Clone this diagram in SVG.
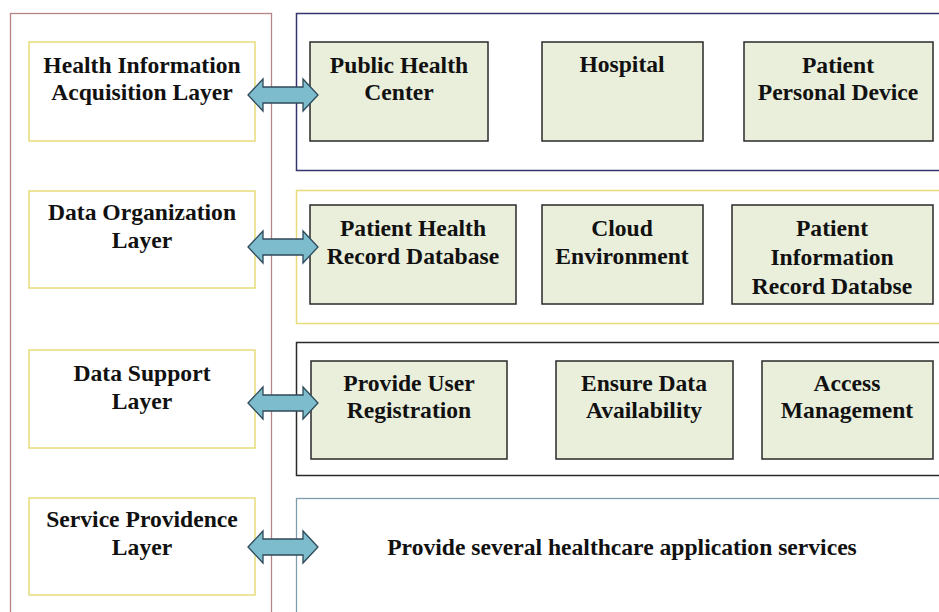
<svg xmlns="http://www.w3.org/2000/svg" width="939" height="612" viewBox="0 0 939 612">
<style>
text{font-family:"Liberation Serif","Times New Roman",serif;font-weight:bold;font-size:23.6px;fill:#111;text-anchor:middle}
.layer{fill:#fff;stroke:#e6dc7a;stroke-width:1.5}
.item{fill:#eaefdc;stroke:#2a2a2a;stroke-width:1.5}
.arrow{fill:#7dbccd;stroke:#2f4a5a;stroke-width:1.3;stroke-linejoin:miter}
</style>
<defs>
<path id="dbl" class="arrow" d="M0,0 L15,-16 L15,-8 L55,-8 L55,-16 L70,0 L55,16 L55,8 L15,8 L15,16 Z"/>
</defs>
<rect width="939" height="612" fill="#fff"/>
<g id="frame">
<rect x="10.5" y="13.5" width="261" height="610" fill="none" stroke="#b58585" stroke-width="1.3"/>
</g>
<g id="containers">
<rect x="296.5" y="13.5" width="660" height="157" fill="none" stroke="#34346e" stroke-width="1.5"/>
<rect x="296.5" y="190.5" width="660" height="133" fill="none" stroke="#e6dc7a" stroke-width="1.5"/>
<rect x="296.5" y="342.5" width="660" height="133" fill="none" stroke="#2a2a2a" stroke-width="1.5"/>
<rect x="296.5" y="498.5" width="660" height="130" fill="none" stroke="#7e9eae" stroke-width="1.3"/>
</g>
<g id="layer1"><rect class="layer" x="29" y="42" width="226" height="99"/><text x="142" y="73">Health Information</text><text x="142" y="100">Acquisition Layer</text></g>
<g id="layer2"><rect class="layer" x="29" y="191" width="226" height="97"/><text x="142" y="220">Data Organization</text><text x="142" y="248">Layer</text></g>
<g id="layer3"><rect class="layer" x="29" y="350" width="226" height="98"/><text x="142" y="381">Data Support</text><text x="142" y="409">Layer</text></g>
<g id="layer4"><rect class="layer" x="29" y="498" width="226" height="97"/><text x="142" y="527">Service Providence</text><text x="142" y="555">Layer</text></g>
<g id="n-public"><rect class="item" x="310" y="42" width="178" height="99"/><text x="399" y="73">Public Health</text><text x="399" y="100">Center</text></g>
<g id="n-hospital"><rect class="item" x="542" y="42" width="161" height="99"/><text x="622" y="72">Hospital</text></g>
<g id="n-device"><rect class="item" x="744" y="42" width="189" height="99"/><text x="838" y="73">Patient</text><text x="838" y="100">Personal Device</text></g>
<g id="n-phrd"><rect class="item" x="310" y="205" width="206" height="99"/><text x="413" y="236">Patient Health</text><text x="413" y="264">Record Database</text></g>
<g id="n-cloud"><rect class="item" x="542" y="205" width="161" height="99"/><text x="622" y="236">Cloud</text><text x="622" y="264">Environment</text></g>
<g id="n-pird"><rect class="item" x="732" y="205" width="201" height="99"/><text x="832" y="236">Patient</text><text x="832" y="265">Information</text><text x="832" y="294">Record Databse</text></g>
<g id="n-reg"><rect class="item" x="311" y="361" width="196" height="98"/><text x="409" y="391">Provide User</text><text x="409" y="418">Registration</text></g>
<g id="n-avail"><rect class="item" x="556" y="361" width="177" height="98"/><text x="644" y="391">Ensure Data</text><text x="644" y="418">Availability</text></g>
<g id="n-access"><rect class="item" x="762" y="361" width="171" height="98"/><text x="847" y="391">Access</text><text x="847" y="418">Management</text></g>
<g id="n-services"><text x="622" y="555">Provide several healthcare application services</text></g>
<g id="connectors">
<use href="#dbl" x="248" y="95"/>
<use href="#dbl" x="248" y="247"/>
<use href="#dbl" x="248" y="403"/>
<use href="#dbl" x="248" y="547"/>
</g>
</svg>
